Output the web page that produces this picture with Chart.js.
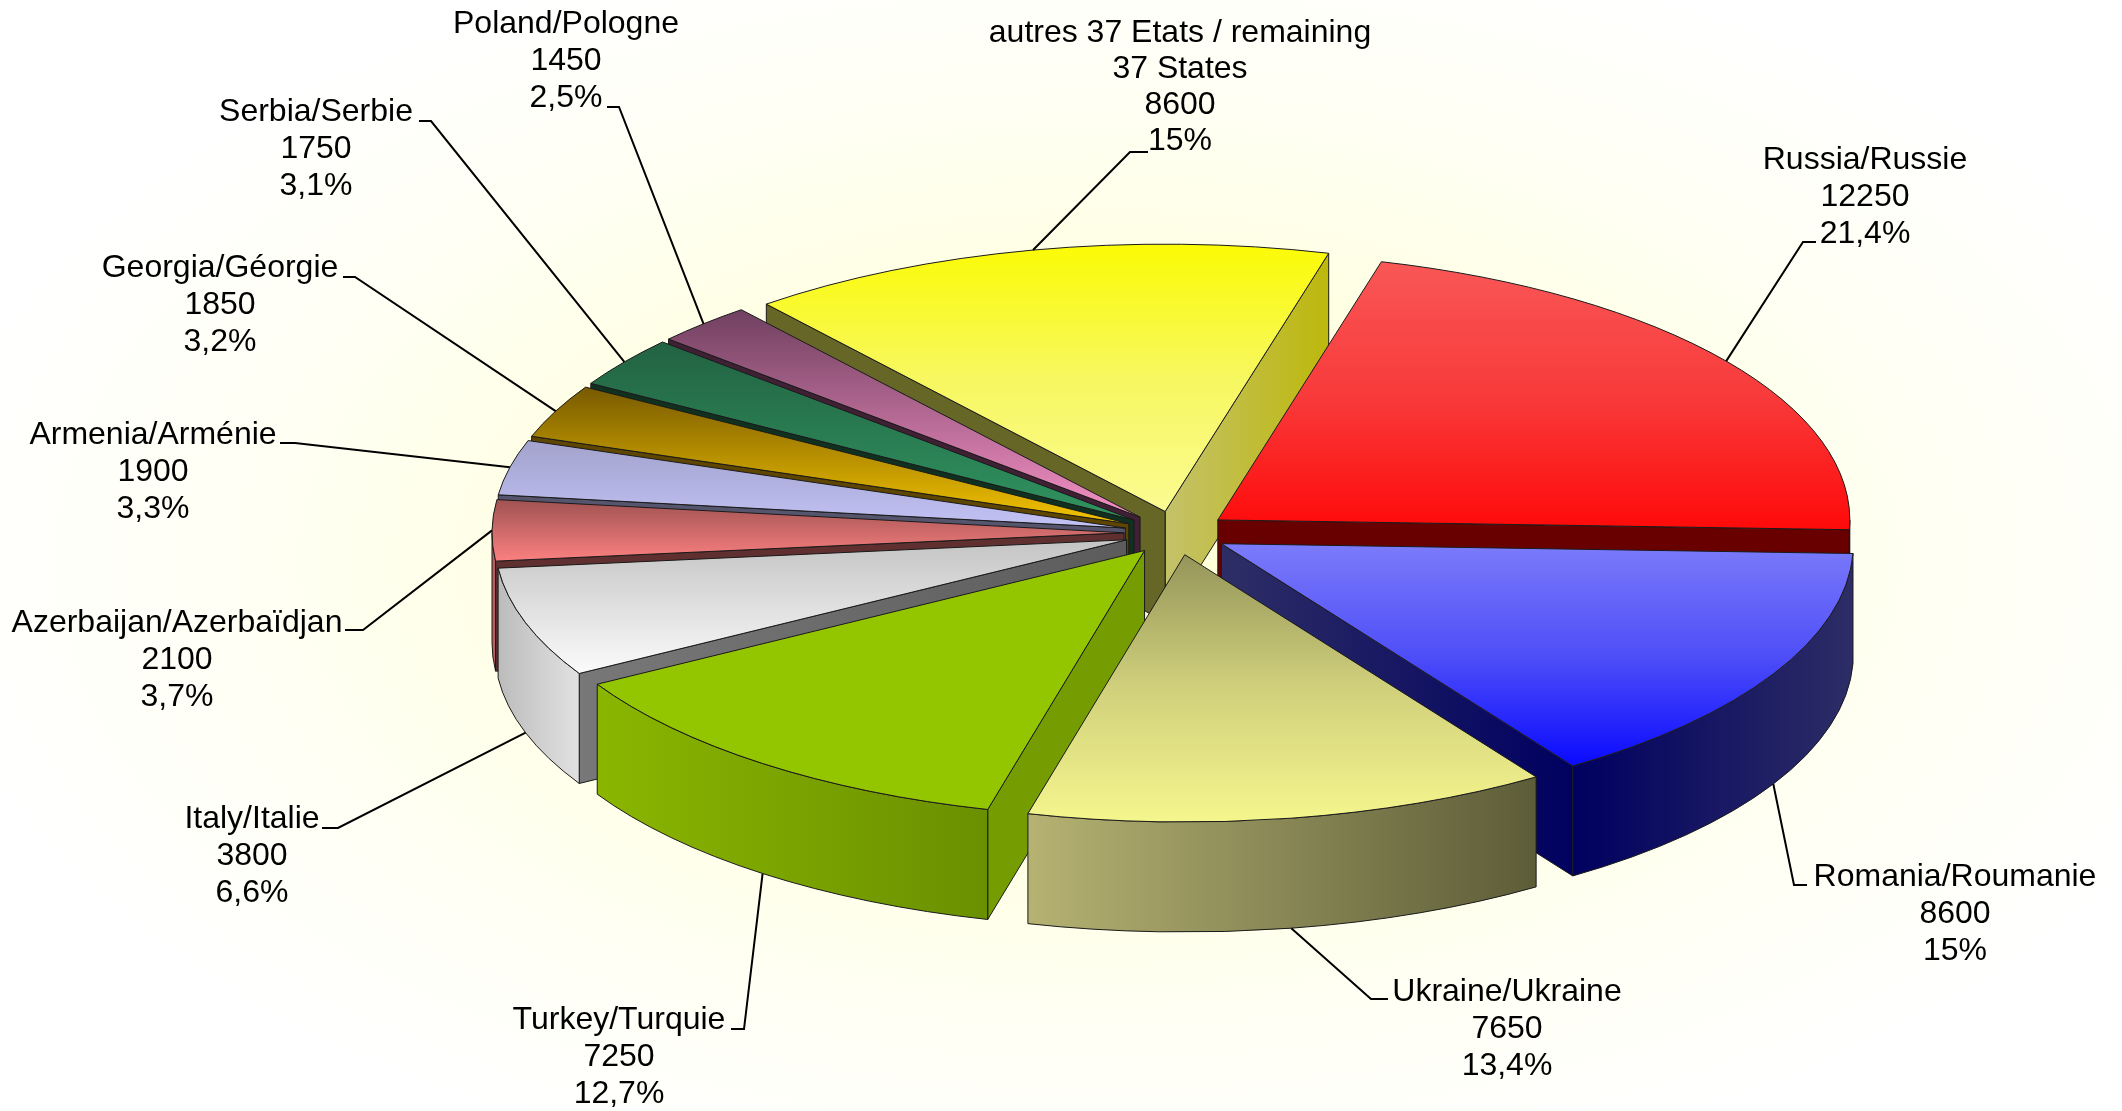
<!DOCTYPE html>
<html>
<head>
<meta charset="utf-8">
<title>Pie</title>
<script src="https://cdn.jsdelivr.net/npm/chart.js@4"></script>
<style>
  html, body { margin: 0; padding: 0; width: 2122px; height: 1111px; overflow: hidden; }
  body { background: radial-gradient(ellipse 1180px 640px at 1100px 560px, #ffffd6 0%, #ffffe4 45%, #fffff4 72%, #ffffff 100%); }
  canvas { display: block; }
</style>
</head>
<body>
<canvas id="chart" width="2122" height="1111"></canvas>
<script>
// ===== DATA =====
const categories = [
  "Russia/Russie", "Romania/Roumanie", "Ukraine/Ukraine", "Turkey/Turquie", "Italy/Italie",
  "Azerbaijan/Azerbaïdjan", "Armenia/Arménie", "Georgia/Géorgie", "Serbia/Serbie",
  "Poland/Pologne", "autres 37 Etats / remaining\n37 States"
];
const values   = [12250, 8600, 7650, 7250, 3800, 2100, 1900, 1850, 1750, 1450, 8600];
const percents = ["21,4%", "15%", "13,4%", "12,7%", "6,6%", "3,7%", "3,3%", "3,2%", "3,1%", "2,5%", "15%"];

// ===== SLICE COLOURS =====
const topColors = [
  ["#f95757", "#f83a3a", "#ff0a0a"], ["#7b7bfa", "#4f4ff8", "#0a0aff"], ["#95955a", "#d0d07c", "#f6f68e"], ["#94c600", "#94c600"],
  ["#c4c4c4", "#fbfbfb"], ["#a05252", "#fb8080"], ["#a2a2cc", "#c2c2f6"], ["#785a00", "#f4c400"],
  ["#226242", "#309460"], ["#704060", "#f490c4"], ["#fbfb05", "#f7f760", "#fbfb92"]
];
const wallColors = [
  ["#660000", "#660000"], ["#000060", "#2d2d66"], ["#b5b272", "#5c5c38"], ["#8ab600", "#6a9000"],
  ["#bcbcbc", "#e2e2e2"], ["#b86060", "#b86060"], ["#606080", "#606080"], ["#5e4600", "#5e4600"],
  ["#103020", "#103020"], ["#402035", "#402035"], ["#666622", "#c0c010"]
];
const startFaceColors = [
  ["#660000", "#660000"], ["#2e2e66", "#000060"], ["#5c5c38", "#5c5c38"], ["#759c00", "#759c00"],
  ["#5c5c5c", "#787878"], ["#603030", "#603030"], ["#55556e", "#55556e"], ["#5e4600", "#5e4600"],
  ["#103020", "#103020"], ["#402035", "#402035"], ["#666626", "#666626"]
];
const endFaceColors = [
  ["#680000", "#680000"], ["#2e2e66", "#000060"], ["#5c5c38", "#5c5c38"], ["#759c00", "#759c00"],
  ["#666666", "#666666"], ["#603030", "#603030"], ["#55556e", "#55556e"], ["#5e4600", "#5e4600"],
  ["#103020", "#103020"], ["#402035", "#402035"], ["#c4c26a", "#bdb80c"]
];

// ===== LABEL LAYOUT: text centre x, first baseline y, elbow x, text-side x, elbow y =====
const labelLayout = [
  [1865, 169, 1803, 1816, 242], [1955, 886, 1794, 1807, 885], [1507, 1001, 1371, 1388, 999],
  [619, 1029, 744, 731, 1029], [252, 828, 338, 322, 828], [177, 632, 363, 345, 630],
  [153, 444, 295, 280, 443], [220, 277, 355, 343, 277], [316, 121, 431, 419, 121],
  [566, 33, 619, 607, 107], [1180, 42, 1130, 1148, 152]
];

// ===== 3D SETTINGS =====
const RADIUS  = 632;
const SQUASH  = 0.423;
const DEPTH   = 110;
const EXPLODE = 52;
const TAU     = Math.PI * 2;

function apexOf(arc) {
  const mid = (arc.startAngle + arc.endAngle) / 2;
  return { x: arc.x + Math.cos(mid) * EXPLODE, y: arc.y + Math.sin(mid) * EXPLODE * SQUASH };
}

function rimPoint(apex, angle) {
  return { x: apex.x + Math.cos(angle) * RADIUS, y: apex.y + Math.sin(angle) * RADIUS * SQUASH };
}

function linearFill(ctx, x0, y0, x1, y1, stops) {
  const g = ctx.createLinearGradient(x0, y0, x1, y1);
  stops.forEach((c, i) => g.addColorStop(i / (stops.length - 1), c));
  return g;
}

function paint(ctx, fill) {
  ctx.fillStyle = fill;
  ctx.fill();
  ctx.stroke();
}

// radial face hanging below one cut edge of the slice
function drawFace(ctx, apex, angle, stops) {
  const rim = rimPoint(apex, angle);
  ctx.beginPath();
  ctx.moveTo(apex.x, apex.y);
  ctx.lineTo(rim.x, rim.y);
  ctx.lineTo(rim.x, rim.y + DEPTH);
  ctx.lineTo(apex.x, apex.y + DEPTH);
  ctx.closePath();
  paint(ctx, linearFill(ctx, apex.x, 0, rim.x === apex.x ? apex.x + 1 : rim.x, 0, stops));
}

// outer wall, only the part of the rim that faces the viewer
function drawWall(ctx, apex, a0, a1, stops) {
  [-TAU, 0, TAU].forEach(shift => {
    const from = Math.max(a0, shift);
    const to   = Math.min(a1, shift + Math.PI);
    if (to <= from) return;
    const p0 = rimPoint(apex, from);
    const p1 = rimPoint(apex, to);
    ctx.beginPath();
    ctx.ellipse(apex.x, apex.y, RADIUS, RADIUS * SQUASH, 0, from, to);
    ctx.lineTo(p1.x, p1.y + DEPTH);
    ctx.ellipse(apex.x, apex.y + DEPTH, RADIUS, RADIUS * SQUASH, 0, to, from, true);
    ctx.closePath();
    // colours run left to right on screen
    paint(ctx, linearFill(ctx, Math.min(p0.x, p1.x), 0, Math.max(p0.x, p1.x) + 1, 0, stops));
  });
}

function drawTop(ctx, apex, a0, a1, stops) {
  const pts = [apex, rimPoint(apex, a0), rimPoint(apex, a1)];
  // include the ellipse extremes the slice passes through
  [-Math.PI / 2, Math.PI / 2, 3 * Math.PI / 2].forEach(t => {
    if (t > a0 && t < a1) pts.push(rimPoint(apex, t));
  });
  const ys = pts.map(p => p.y);
  ctx.beginPath();
  ctx.moveTo(apex.x, apex.y);
  ctx.ellipse(apex.x, apex.y, RADIUS, RADIUS * SQUASH, 0, a0, a1);
  ctx.closePath();
  paint(ctx, linearFill(ctx, 0, Math.min(...ys), 0, Math.max(...ys), stops));
}

// ===== PLUGIN: draws the library's arcs as exploded 3D wedges =====
const pie3d = {
  id: "pie3d",
  beforeDatasetDraw(chart, args) {
    const ctx  = chart.ctx;
    const arcs = args.meta.data;
    const order = arcs.map((arc, i) => i).sort((a, b) => {
      const midA = (arcs[a].startAngle + arcs[a].endAngle) / 2;
      const midB = (arcs[b].startAngle + arcs[b].endAngle) / 2;
      return Math.sin(midA) - Math.sin(midB);
    });
    ctx.save();
    ctx.lineWidth = 1;
    ctx.strokeStyle = "#1a1a1a";
    ctx.lineJoin = "round";
    order.forEach(i => {
      const arc  = arcs[i];
      const apex = apexOf(arc);
      if (Math.cos(arc.endAngle) > 0)   drawFace(ctx, apex, arc.endAngle, endFaceColors[i]);
      if (Math.cos(arc.startAngle) < 0) drawFace(ctx, apex, arc.startAngle, startFaceColors[i]);
      drawWall(ctx, apex, arc.startAngle, arc.endAngle, wallColors[i]);
      drawTop(ctx, apex, arc.startAngle, arc.endAngle, topColors[i]);
    });
    ctx.restore();
    return false;
  },
  afterDraw(chart) {
    const ctx  = chart.ctx;
    const arcs = chart.getDatasetMeta(0).data;
    ctx.save();
    ctx.strokeStyle = "#000";
    ctx.lineWidth = 2;
    ctx.fillStyle = "#000";
    ctx.font = '32px "Liberation Sans", Arial, sans-serif';
    ctx.textAlign = "center";
    ctx.textBaseline = "alphabetic";
    arcs.forEach((arc, i) => {
      const [cx, by, elbowX, sideX, elbowY] = labelLayout[i];
      const mid = (arc.startAngle + arc.endAngle) / 2;
      const rim = rimPoint(apexOf(arc), mid);
      const startY = Math.sin(mid) > 0.3 ? rim.y + DEPTH : rim.y;
      ctx.beginPath();
      ctx.moveTo(rim.x, startY);
      ctx.lineTo(elbowX, elbowY);
      ctx.lineTo(sideX, elbowY);
      ctx.stroke();

      const lines = [...categories[i].split("\n"), String(values[i]), percents[i]];
      const gap = lines.length > 3 ? 36 : 37;
      lines.forEach((line, n) => ctx.fillText(line, cx, by + n * gap));
    });
    ctx.restore();
  }
};

// ===== CHART =====
new Chart(document.getElementById("chart"), {
  type: "pie",
  data: {
    labels: categories,
    datasets: [{
      data: values,
      backgroundColor: topColors.map(c => c[c.length - 1]),
      borderWidth: 0
    }]
  },
  options: {
    responsive: false,
    animation: false,
    radius: RADIUS,
    rotation: 15,
    layout: { padding: { left: 230, bottom: 45 } },
    plugins: { legend: { display: false }, tooltip: { enabled: false } }
  },
  plugins: [pie3d]
});
</script>
</body>
</html>
